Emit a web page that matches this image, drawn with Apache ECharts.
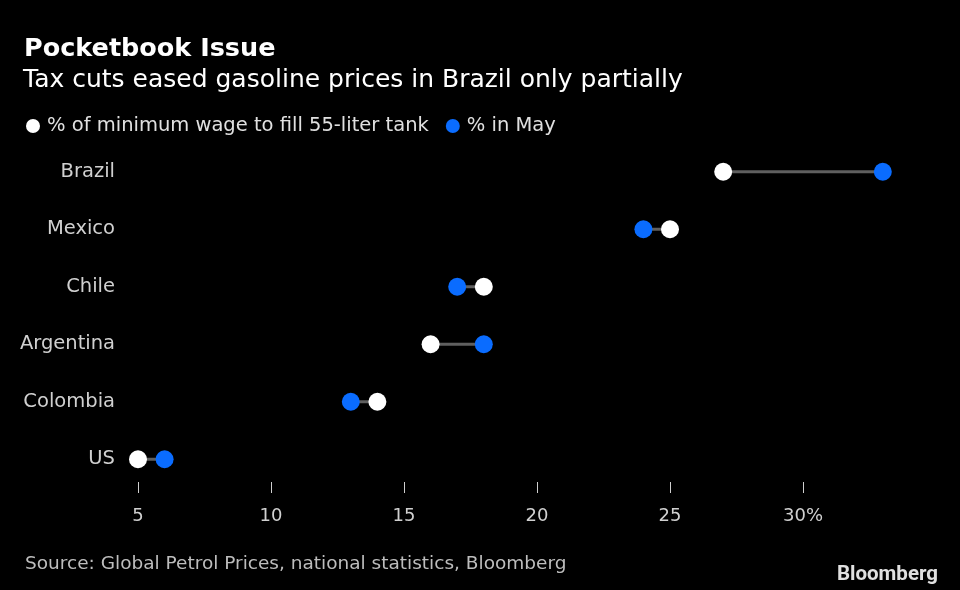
<!DOCTYPE html>
<html>
<head>
<meta charset="utf-8">
<script src="https://cdn.jsdelivr.net/npm/echarts@6/dist/echarts.min.js"></script>
<style>
html,body{margin:0;padding:0;background:#000;}
#c{width:960px;height:590px;}
</style>
</head>
<body>
<div id="c"></div>
<script>
const categories = ['Brazil', 'Mexico', 'Chile', 'Argentina', 'Colombia', 'US'];
const wageShare = [27, 25, 18, 16, 14, 5];
const mayShare = [33, 24, 17, 18, 13, 6];
const tickValues = [5, 10, 15, 20, 25, 30];

const FONT = '"DejaVu Sans", sans-serif';
const BLUE = '#0a6cff';

const chart = echarts.init(document.getElementById('c'));
chart.setOption({
  backgroundColor: '#000',
  animation: false,
  textStyle: { fontFamily: FONT },
  title: [
    { text: 'Pocketbook Issue', left: 19, top: 31,
      textStyle: { color: '#fff', fontSize: 25.5, fontWeight: 'bold', fontFamily: FONT } },
    { text: 'Tax cuts eased gasoline prices in Brazil only partially', left: 18, top: 63,
      textStyle: { color: '#fff', fontSize: 25, fontWeight: 'normal', fontFamily: FONT } },
    { text: 'Source: Global Petrol Prices, national statistics, Bloomberg', left: 20, top: 550,
      textStyle: { color: '#bdbdbd', fontSize: 18.5, fontWeight: 'normal', fontFamily: FONT } },
    { text: 'Bloomberg', right: 17, top: 559,
      textStyle: { color: '#e0e0e0', fontSize: 20.5, fontWeight: 'bold', fontFamily: 'Roboto, "Liberation Sans", sans-serif' } }
  ],
  legend: {
    left: 21, top: 111,
    itemWidth: 14, itemHeight: 14, itemGap: 17,
    icon: 'circle',
    textStyle: { color: '#e0e0e0', fontSize: 19.5, fontFamily: FONT, padding: [0, 0, 0, 2] },
    data: ['% of minimum wage to fill 55-liter tank', '% in May']
  },
  grid: { left: 138, right: 24, top: 143, bottom: 102, containLabel: false },
  xAxis: {
    type: 'value', min: 5, max: 35, interval: 5, offset: -6,
    axisLine: { show: false },
    splitLine: { show: false },
    axisTick: { show: true, length: 11, customValues: tickValues,
      lineStyle: { color: '#cfcfcf', width: 1 } },
    axisLabel: { customValues: tickValues, color: '#d0d0d0', fontSize: 18, margin: 25,
      fontFamily: FONT,
      formatter: v => v === 30 ? v + '%' : String(v) }
  },
  yAxis: {
    type: 'category', data: categories, inverse: true,
    axisLine: { show: false }, axisTick: { show: false }, splitLine: { show: false },
    axisLabel: { color: '#d0d0d0', fontSize: 19.5, margin: 23, fontFamily: FONT }
  },
  series: [
    {
      type: 'custom',
      silent: true,
      z: 1,
      data: categories.map((c, i) => [wageShare[i], mayShare[i], i]),
      renderItem: function (params, api) {
        const p1 = api.coord([api.value(0), api.value(2)]);
        const p2 = api.coord([api.value(1), api.value(2)]);
        return {
          type: 'line',
          shape: { x1: p1[0], y1: p1[1], x2: p2[0], y2: p2[1] },
          style: { stroke: '#5f5f5f', lineWidth: 3 }
        };
      },
      encode: { x: [0, 1], y: 2 }
    },
    {
      name: '% of minimum wage to fill 55-liter tank',
      type: 'scatter', z: 3, symbolSize: 18,
      itemStyle: { color: '#ffffff', opacity: 1 },
      data: categories.map((c, i) => [wageShare[i], c])
    },
    {
      name: '% in May',
      type: 'scatter', z: 3, symbolSize: 18,
      itemStyle: { color: BLUE, opacity: 1 },
      data: categories.map((c, i) => [mayShare[i], c])
    }
  ]
});
</script>
</body>
</html>
